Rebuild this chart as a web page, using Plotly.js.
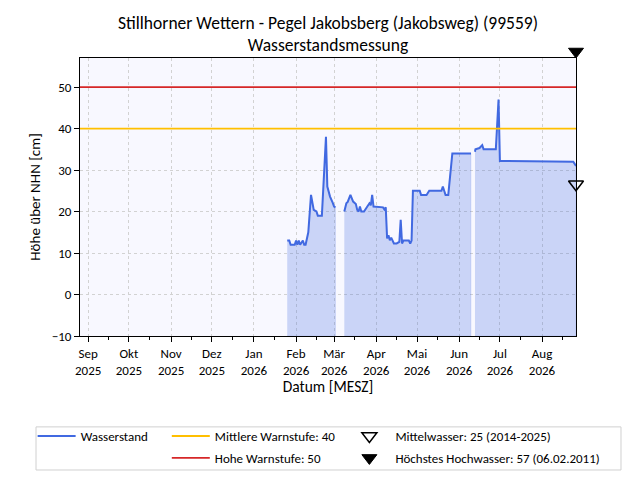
<!DOCTYPE html>
<html><head><meta charset="utf-8">
<script src="https://cdn.plot.ly/plotly-3.0.1.min.js"></script>
<style>html,body{margin:0;padding:0;background:#fff}</style>
</head><body><div id="chart" style="width:640px;height:480px"></div>
<script>
// Measurement dates and water levels (cm above NHN); null marks a gap in the record
const dates = [
  '2026-01-25 12:00','2026-01-27','2026-01-28','2026-01-31','2026-02-01','2026-02-02','2026-02-03',
  '2026-02-04','2026-02-06','2026-02-07','2026-02-08','2026-02-10','2026-02-12','2026-02-14',
  '2026-02-16','2026-02-17','2026-02-20','2026-02-23','2026-02-24','2026-02-26','2026-02-28',
  '2026-03-01','2026-03-02',
  '2026-03-05',
  '2026-03-08 12:00','2026-03-10','2026-03-11','2026-03-13','2026-03-15','2026-03-17','2026-03-18',
  '2026-03-19','2026-03-20','2026-03-21','2026-03-23','2026-03-26','2026-03-27','2026-03-28',
  '2026-03-29','2026-03-30','2026-04-06','2026-04-07','2026-04-08','2026-04-09','2026-04-10',
  '2026-04-11','2026-04-12','2026-04-14','2026-04-16','2026-04-18','2026-04-19','2026-04-20',
  '2026-04-21','2026-04-25','2026-04-26','2026-04-27','2026-04-28','2026-05-03','2026-05-04',
  '2026-05-08','2026-05-10','2026-05-19','2026-05-20','2026-05-21','2026-05-22','2026-05-24',
  '2026-05-27','2026-06-09 18:00',
  '2026-06-11',
  '2026-06-12 16:00','2026-06-13','2026-06-16','2026-06-18','2026-06-19','2026-06-28','2026-06-30',
  '2026-07-01','2026-08-24','2026-08-26'
];
const levels = [
  13,13,12,12,13,12,13,
  12,13,12,12,15,24,20.4,
  20,19,19,38,26,23.6,22.1,
  21.2,21,
  null,
  20,22,22.3,24,22.4,21.8,20.4,
  20,21.2,20,20,21.6,22,21.5,
  24,21.2,21,20.5,21,13.5,14.3,
  13.1,13.7,12.3,12.3,12.7,18,12.3,
  13,13,12.3,13,25,25,24,
  24,25,25,26,25,24,24,
  34,34,
  null,
  34.4,35,35.3,36,35,35,47,
  32.2,32,31
];

const monthTicks = ['2025-09-01','2025-10-01','2025-11-01','2025-12-01','2026-01-01','2026-02-01',
  '2026-03-01','2026-04-01','2026-05-01','2026-06-01','2026-07-01','2026-08-01'];
const monthLabels = ['Sep<br>2025','Okt<br>2025','Nov<br>2025','Dez<br>2025','Jan<br>2026','Feb<br>2026',
  'Mär<br>2026','Apr<br>2026','Mai<br>2026','Jun<br>2026','Jul<br>2026','Aug<br>2026'];
const yTicks = [-10, 0, 10, 20, 30, 40, 50];

const warnMid = 40;        // Mittlere Warnstufe
const warnHigh = 50;       // Hohe Warnstufe
const meanWater = 25;      // Mittelwasser
const highestWater = 57;   // Höchstes Hochwasser

const xStart = '2025-08-26';
const xEnd = dates[dates.length - 1];
const yMin = -10, yMax = 57;

const FONT = 'Carlito, Calibri, Lato, "Open Sans", sans-serif';

// split into continuous segments for the filled area
const segments = [];
let cur = null;
dates.forEach((d, i) => {
  if (levels[i] === null) { cur = null; return; }
  if (!cur) { cur = {x: [], y: []}; segments.push(cur); }
  cur.x.push(d); cur.y.push(levels[i]);
});

const traces = [];
segments.forEach(s => {
  traces.push({
    x: s.x.concat([s.x[s.x.length - 1], s.x[0]]),
    y: s.y.concat([yMin, yMin]),
    mode: 'lines', fill: 'toself', fillcolor: 'rgba(65,105,225,0.25)',
    line: {width: 0.8, color: 'rgba(65,105,225,0.15)'},
    hoverinfo: 'skip', showlegend: false
  });
});
traces.push({
  x: dates, y: levels, mode: 'lines', name: 'Wasserstand',
  line: {color: '#4169E1', width: 2}, connectgaps: false, legend: 'legend'
});
traces.push({
  x: [xStart, xEnd], y: [warnMid, warnMid], mode: 'lines', name: 'Mittlere Warnstufe: ' + warnMid,
  line: {color: '#FFBF00', width: 1.8}, legend: 'legend2', legendgroup: 'a'
});
traces.push({
  x: [xStart, xEnd], y: [warnHigh, warnHigh], mode: 'lines', name: 'Hohe Warnstufe: ' + warnHigh,
  line: {color: '#D62728', width: 1.8}, legend: 'legend2', legendgroup: 'b'
});
// reference markers drawn at the right edge, tip pointing at the value
const markOpen = {symbol: 'triangle-up-open', angle: 180, standoff: 6.5, size: 13, color: '#000', line: {width: 1.5, color: '#000'}};
const markFull = {symbol: 'triangle-up', angle: 180, standoff: 6.5, size: 13, color: '#000', line: {width: 1, color: '#000'}};
traces.push({
  x: [xEnd], y: [meanWater], mode: 'markers', marker: markOpen, cliponaxis: false, showlegend: false
});
traces.push({
  x: [xEnd], y: [highestWater], mode: 'markers', marker: markFull, cliponaxis: false, showlegend: false
});
// legend entries for the markers
traces.push({
  x: [null], y: [null], mode: 'markers', name: 'Mittelwasser: ' + meanWater + ' (2014-2025)',
  marker: {symbol: 'triangle-down-open', size: 13, color: '#000', line: {width: 1.5, color: '#000'}},
  legend: 'legend3', legendgroup: 'c'
});
traces.push({
  x: [null], y: [null], mode: 'markers', name: 'Höchstes Hochwasser: ' + highestWater + ' (06.02.2011)',
  marker: {symbol: 'triangle-down', size: 13, color: '#000', line: {width: 1, color: '#000'}},
  legend: 'legend3', legendgroup: 'd'
});

const legendBase = {
  orientation: 'v', xanchor: 'left', yanchor: 'top', bgcolor: 'rgba(0,0,0,0)',
  font: {family: FONT, size: 13, color: '#000'}, itemwidth: 38, tracegroupgap: 2
};

const layout = {
  width: 640, height: 480,
  margin: {l: 80, r: 64, t: 58, b: 144, autoexpand: false},
  paper_bgcolor: '#fff', plot_bgcolor: '#F8F8FF',
  font: {family: FONT, size: 13, color: '#000'},
  title: {
    text: 'Stillhorner Wettern - Pegel Jakobsberg (Jakobsweg) (99559)<br>Wasserstandsmessung',
    x: 0.5, xref: 'paper', xanchor: 'center', y: 0.9405, yref: 'container', yanchor: 'middle',
    font: {family: FONT, size: 17.5, color: '#000'}
  },
  xaxis: {
    type: 'date', range: [xStart, xEnd],
    tickvals: monthTicks, ticktext: monthLabels,
    ticks: 'outside', ticklen: 5, tickcolor: '#000', tickfont: {family: FONT, size: 13},
    showline: true, linecolor: '#000', linewidth: 1, mirror: true,
    showgrid: true, gridcolor: '#D2D2D2', griddash: 'dot', gridwidth: 1,
    zeroline: false,
    minor: {tick0: '2025-08-16', dtick: 'M1', ticks: 'outside', ticklen: 3, tickcolor: '#000', showgrid: false},
    title: {text: 'Datum [MESZ]', font: {family: FONT, size: 15.5, color: '#000'}, standoff: 0}
  },
  yaxis: {
    range: [yMin, yMax], tickvals: yTicks,
    ticks: 'outside', ticklen: 5, tickcolor: '#000', tickfont: {family: FONT, size: 13},
    showline: true, linecolor: '#000', linewidth: 1, mirror: true,
    showgrid: true, gridcolor: '#D2D2D2', griddash: 'dot', gridwidth: 1,
    zeroline: false,
    title: {text: 'Höhe über NHN [cm]', font: {family: FONT, size: 15, color: '#000'}, standoff: 7}
  },
  legend: Object.assign({}, legendBase, {x: -0.0955, y: -0.306}),
  legend2: Object.assign({}, legendBase, {x: 0.175, y: -0.306}),
  legend3: Object.assign({}, legendBase, {x: 0.531, y: -0.306, itemwidth: 42}),
  shapes: [{
    type: 'rect', xref: 'paper', yref: 'paper',
    x0: -0.0887, x1: 1.0907, y0: -0.482, y1: -0.327,
    line: {color: '#D0D0D0', width: 1}, fillcolor: 'rgba(0,0,0,0)', layer: 'above'
  }]
};

Plotly.newPlot('chart', traces, layout, {displayModeBar: false, staticPlot: true});
</script>
</body></html>
